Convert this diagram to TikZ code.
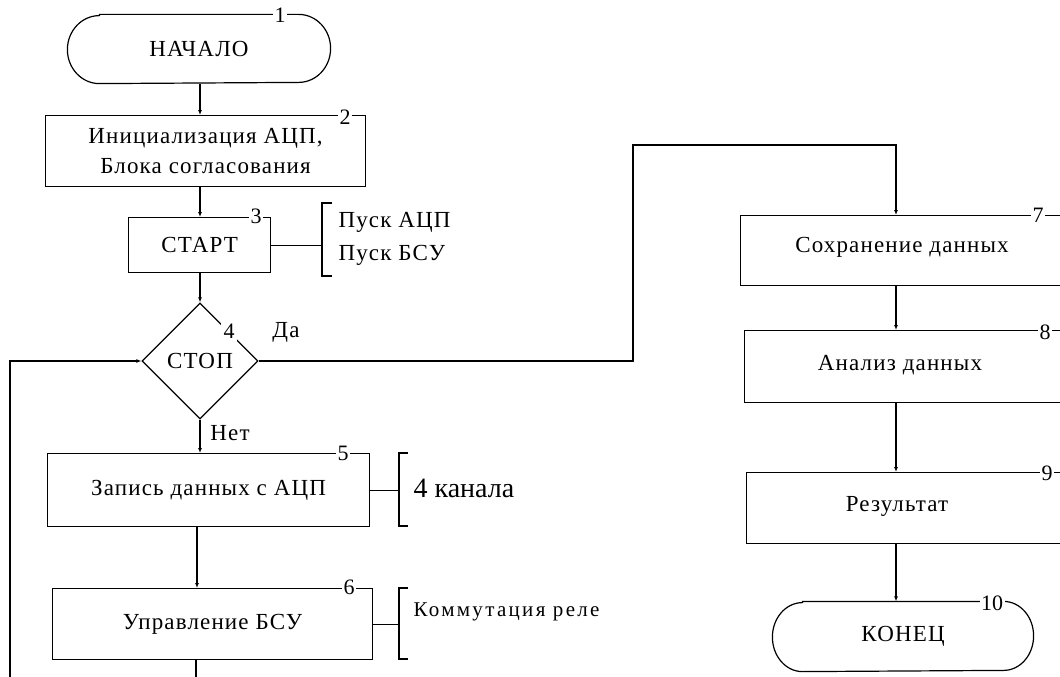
\documentclass[tikz,border=0pt]{standalone}
\usepackage{fontspec}
\setmainfont{Liberation Serif}
\newfontfamily\lsp[LetterSpace=5]{Liberation Serif}
\newfontfamily\lspw[LetterSpace=11]{Liberation Serif}
\usetikzlibrary{shapes.geometric,arrows.meta}
\begin{document}
\begin{tikzpicture}[x=1pt,y=-1pt,line width=1.2pt,
  txt/.style={font=\lsp\fontsize{23}{30}\selectfont, inner sep=0pt, align=center},
  box/.style={draw, rectangle, anchor=north west, inner sep=0pt, txt},
  num/.style={fill=white, inner sep=1.5pt, font=\rmfamily\fontsize{22}{22}\selectfont},
  arr/.style={-{Latex[length=5pt,width=4pt]}}
]
\useasboundingbox (0,0) rectangle (1060,677);
\clip (0,0) rectangle (1060,677);

% column x coordinates
\coordinate (xl) at (200,0);
\coordinate (xr) at (896,0);

% 1 start
\node[txt, minimum width=262pt, minimum height=68pt] (n1) at (199,49) {НАЧАЛО};
\draw ([xshift=32pt]n1.north west) -- ([xshift=-32pt]n1.north east)
  arc[start angle=90, end angle=-90, x radius=32pt, y radius=34pt]
  -- ([xshift=32pt]n1.south west)
  arc[start angle=270, end angle=90, x radius=32pt, y radius=34pt] -- cycle;
\node[num] (k1) at (280,15) {1};

% 2
\node[box, minimum width=320pt, minimum height=71pt] (b2) at (45,115) {Инициализация АЦП,\\Блока согласования};
\node[num] (k2) at (345,117) {2};

% 3
\node[box, minimum width=142pt, minimum height=55pt] (b3) at (128,217) {СТАРТ};
\node[num] (k3) at (256,216) {3};

% 4 decision
\node[draw, diamond, minimum width=116pt, minimum height=116pt, inner sep=0pt, txt] (d4) at (200,361) {СТОП};
\node[num, inner sep=2.5pt] (k4) at (229,331) {4};

% 5
\node[box, minimum width=322pt, minimum height=73pt] (b5) at (47,453) {Запись данных с АЦП};
\node[num] (k5) at (343,453) {5};

% 6
\node[box, minimum width=320pt, minimum height=71pt] (b6) at (52,588) {Управление БСУ};
\node[num] (k6) at (349,587) {6};

% 7,8,9 (cut at right edge)
\node[box, minimum width=360pt, minimum height=70pt] (b7) at (740,215) {};
\node[txt] (t7) at (902,247) {Сохранение данных};
\node[num] (k7) at (1038,215) {7};

\node[box, minimum width=356pt, minimum height=72pt] (b8) at (744,330) {};
\node[txt] (t8) at (900,365) {Анализ данных};
\node[num] (k8) at (1045,332) {8};

\node[box, minimum width=354pt, minimum height=71pt] (b9) at (746,472) {};
\node[txt] (t9) at (897,506) {Результат};
\node[num] (k9) at (1047,473) {9};

% 10 end
\node[txt, minimum width=260pt, minimum height=69pt] (n10) at (903,636.5) {КОНЕЦ};
\draw ([xshift=30pt]n10.north west) -- ([xshift=-30pt]n10.north east)
  arc[start angle=90, end angle=-90, x radius=30pt, y radius=34.5pt]
  -- ([xshift=30pt]n10.south west)
  arc[start angle=270, end angle=90, x radius=30pt, y radius=34.5pt] -- cycle;
\node[num] (k10) at (992,603) {10};

% connectors left column
\draw[arr] (n1.south -| xl) -- (b2.north -| xl);
\draw[arr] (b2.south -| xl) -- (b3.north -| xl);
\draw[arr] (b3.south -| xl) -- (d4.north);
\draw[arr] (d4.south) -- (b5.north -| xl);
\coordinate (x56) at (197,0);
\draw[arr] (b5.south -| x56) -- (b6.north -| x56);
\coordinate (bot6) at (196,680);
\draw (b6.south -| bot6) -- (bot6);

% loop back
\coordinate (lb) at (10,680);
\draw[arr] (lb) |- (d4.west);

% yes branch
\coordinate (c1) at (633,145);
\draw[arr] (d4.east) -| (c1) -| (b7.north -| xr);
\node[txt] (da) at (286,332) {Да};
\node[txt] (net) at (230,433) {Нет};

% right column
\draw[arr] (b7.south -| xr) -- (b8.north -| xr);
\draw[arr] (b8.south -| xr) -- (b9.north -| xr);
\draw[arr] (b9.south -| xr) -- (n10.north -| xr);

% brackets
\coordinate (br3) at (322,245);
\draw (332,203) -- (322,203) -- (322,276) -- (332,276);
\draw (b3.east) -- (b3.east -| br3);
\node[txt, anchor=west] (p1) at (338,222) {Пуск АЦП};
\node[txt, anchor=west] (p2) at (338,255) {Пуск БСУ};

\coordinate (br5) at (399,491);
\draw (408,453) -- (399,453) -- (399,526) -- (408,526);
\draw (b5.east) -- (b5.east -| br5);
\node[font=\rmfamily\fontsize{28}{30}\selectfont, inner sep=0pt, anchor=west] (kan) at (413,488) {4 канала};

\coordinate (br6) at (399,623);
\draw (408,588) -- (399,588) -- (399,659) -- (408,659);
\draw (b6.east) -- (b6.east -| br6);
\node[font=\lspw\fontsize{21}{24}\selectfont, inner sep=0pt, anchor=west] (kom) at (413,612) {Коммутация реле};
\end{tikzpicture}
\end{document}
